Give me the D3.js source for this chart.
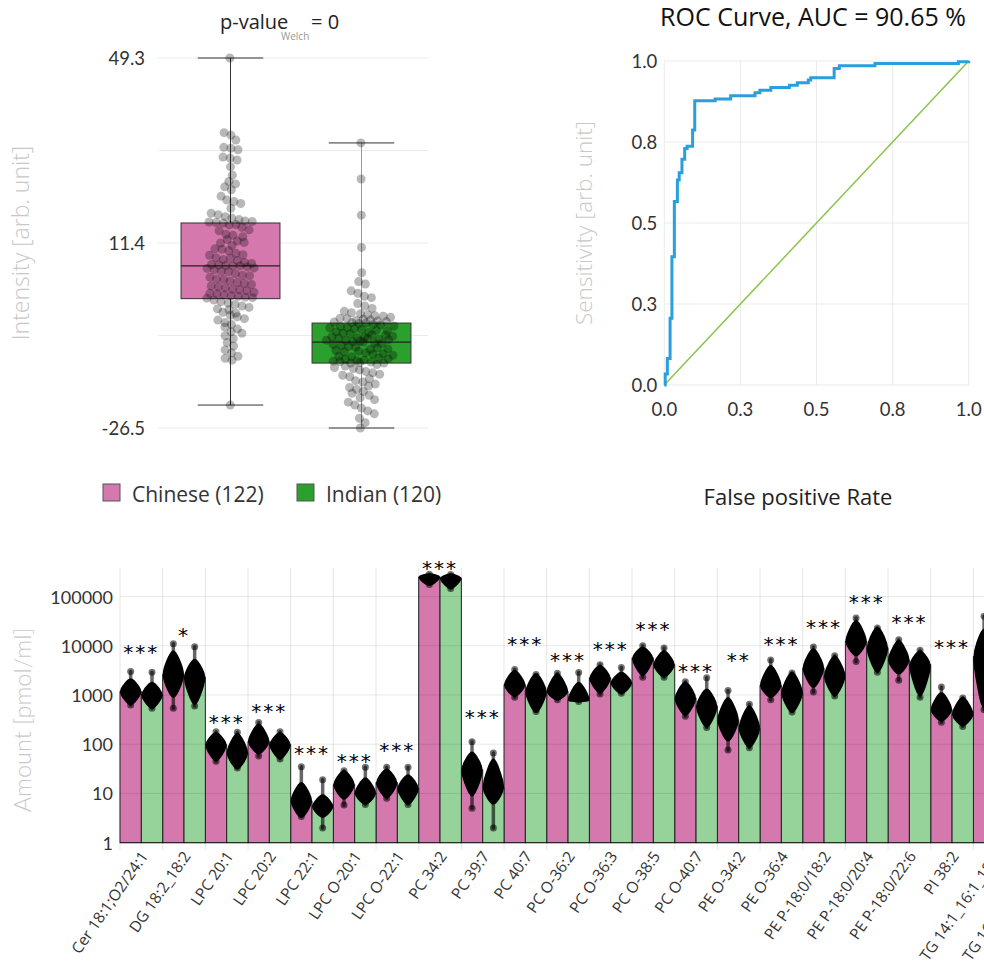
<!DOCTYPE html>
<html>
<head>
<meta charset="utf-8">
<script src="https://cdn.jsdelivr.net/npm/d3@7"></script>
<style>
  body { margin: 0; background: #fff; overflow: hidden; }
  svg text { font-family: "Open Sans", sans-serif; }
</style>
</head>
<body>
<div id="chart"></div>
<script>
/* ---------- data: box plot ---------- */
const groupNames = ["Chinese", "Indian"];
const groupCounts = [122, 120];
const boxQ1 = [0.0, -13.2];
const boxMedian = [6.7, -8.9];
const boxQ3 = [15.5, -5.0];
const whiskerLow = [-21.8, -26.5];
const whiskerHigh = [49.3, 31.9];
const intensityGrid = [49.3, 30.35, 11.4, -7.55, -26.5];
const intensityLabels = [49.3, 11.4, -26.5];

const chineseIntensity = [49.3, 34.0, 33.5, 32.5, 31.0, 30.8, 30.5, 29.0, 28.8, 28.4, 27.0, 25.3, 24.0, 23.5,
  22.9, 22.3, 21.0, 20.2, 19.9, 19.5, 18.5, 17.5, 17.2, 16.8, 16.5, 16.2, 15.9, 15.8, 15.7, 15.6, 15.5,
  15.2, 15.1, 14.6, 14.1, 13.9, 13.2, 13.0, 12.7, 12.1, 11.8, 11.5, 11.4, 10.9, 10.2, 10.1, 9.8, 9.3, 9.0,
  8.9, 8.4, 8.3, 8.0, 7.8, 7.4, 7.2, 7.0, 6.9, 6.8, 6.7, 6.7,
  6.5, 6.3, 6.2, 5.9, 5.6, 5.5, 5.1, 4.8, 4.7, 4.4, 4.0, 3.9, 3.6, 3.3, 3.1, 2.9, 2.6, 2.4, 2.2, 1.9,
  1.8, 1.6, 1.3, 1.1, 1.0, 0.8, 0.6, 0.5, 0.3, 0.2, 0.1,
  -0.3, -0.6, -0.9, -1.2, -1.5, -1.8, -2.1, -2.3, -2.8, -3.0, -3.4, -3.7, -4.1, -4.4, -4.9, -5.3, -5.8,
  -6.2, -6.8, -7.1, -7.6, -8.2, -9.0, -9.7, -10.5, -11.1, -11.8, -12.2, -12.6, -21.8];
const indianIntensity = [31.9, 24.5, 17.1, 10.5, 5.3, 3.5, 3.0, 1.6, 1.1, 0.5, 0.2, -1.0, -1.5, -2.0, -2.6,
  -2.9, -3.1, -3.3, -3.5, -3.6, -3.8, -4.0, -4.1, -4.2, -4.4, -4.5, -4.6, -4.7, -4.8, -4.9,
  -5.0, -5.1, -5.3, -5.4, -5.6, -5.7, -5.9, -6.0, -6.2, -6.3, -6.5, -6.6, -6.8, -6.9, -7.1, -7.2, -7.4,
  -7.5, -7.7, -7.8, -7.9, -8.0, -8.1, -8.2, -8.3, -8.4, -8.5, -8.6, -8.7, -8.8,
  -8.9, -9.1, -9.2, -9.4, -9.6, -9.8, -9.9, -10.1, -10.3, -10.4, -10.6, -10.8, -10.9, -11.1, -11.3,
  -11.4, -11.6, -11.8, -11.9, -12.1, -12.3, -12.4, -12.6, -12.7, -12.8, -12.9, -13.0, -13.1, -13.2, -13.2,
  -13.5, -13.8, -14.1, -14.3, -14.6, -14.9, -15.2, -15.5, -15.7, -16.0, -16.4, -16.8, -17.1, -17.5,
  -17.9, -18.2, -18.6, -19.0, -19.4, -19.8, -20.3, -20.7, -21.2, -21.8, -22.4, -23.0, -23.6, -24.5,
  -25.4, -26.5];

/* ---------- data: ROC ---------- */
const rocFpr = [0, 0.003, 0.010, 0.019, 0.025, 0.033, 0.043, 0.049, 0.058, 0.067, 0.075, 0.093, 0.100,
  0.167, 0.218, 0.298, 0.314, 0.350, 0.411, 0.437, 0.473, 0.481, 0.558, 0.575, 0.692, 0.966, 1.0];
const rocTpr = [0, 0.034, 0.082, 0.206, 0.396, 0.566, 0.633, 0.655, 0.697, 0.730, 0.737, 0.787, 0.877,
  0.883, 0.893, 0.902, 0.910, 0.918, 0.925, 0.933, 0.941, 0.948, 0.977, 0.985, 0.992, 0.998, 1.0];
const rocTicks = [0, 0.25, 0.5, 0.75, 1];
const aucPercent = 90.65;

/* ---------- data: lipid bars ---------- */
const lipids = ["Cer 18:1;O2/24:1", "DG 18:2_18:2", "LPC 20:1", "LPC 20:2", "LPC 22:1", "LPC O-20:1",
  "LPC O-22:1", "PC 34:2", "PC 39:7", "PC 40:7", "PC O-36:2", "PC O-36:3", "PC O-38:5", "PC O-40:7",
  "PE O-34:2", "PE O-36:4", "PE P-18:0/18:2", "PE P-18:0/20:4", "PE P-18:0/22:6", "PI 38:2",
  "TG 14:1_16:1_18:2", "TG 16:1_16:1_18:1"];
const chineseMean = [1170, 2600, 97, 113, 7, 15, 16.5, 247000, 30, 1600, 1170, 2200, 5600, 860, 310,
  1550, 3500, 12200, 5100, 500, 6000, 4000];
const indianMean = [1000, 2300, 66, 97, 5.4, 10, 12.5, 235000, 13, 1170, 800, 1740, 4100, 590, 210,
  1100, 2400, 9000, 4100, 400, 4500, 3000];
const chineseHi = [2040, 7600, 165, 245, 16, 28, 30, 277000, 66, 3000, 2600, 3800, 8900, 1750, 850,
  3800, 8300, 31000, 12300, 1070, 21000, 9000];
const chineseLo = [660, 930, 48, 66, 3.4, 8, 8.5, 175000, 9.3, 980, 830, 1150, 2600, 400, 122, 940,
  1480, 6500, 2800, 310, 580, 900];
const chineseMax = [3000, 11000, 180, 275, 35, 29, 34, 285000, 112, 3300, 2780, 4100, 10000, 1850,
  1230, 5150, 9400, 36500, 13200, 1460, 40000, 12000];
const chineseMin = [630, 540, 45, 58, 3.4, 5.8, 8, 175000, 5, 900, 800, 1050, 2300, 370, 76, 800,
  1150, 4800, 2000, 280, 500, 700];
const indianHi = [1740, 5100, 160, 165, 9, 20, 23, 277000, 48, 2600, 1740, 2800, 7600, 1260, 580, 2800,
  6000, 23000, 7600, 870, 15000, 8000];
const indianLo = [560, 670, 33, 52, 3.4, 6.3, 6.3, 150000, 6.3, 460, 760, 1100, 2400, 230, 89, 460,
  1000, 3000, 1000, 245, 500, 600];
const indianMax = [2900, 9600, 175, 180, 19, 34, 34, 280000, 66, 2600, 2850, 3600, 9000, 2240, 650,
  2800, 6300, 23000, 8100, 870, 20000, 10000];
const indianMin = [540, 600, 33, 50, 2.0, 6, 6, 145000, 2.0, 460, 740, 1080, 2300, 220, 85, 450, 950,
  2900, 900, 230, 400, 500];
// the last two groups run past the right edge; their stars are not visible
const sigLabel = ["***", "*", "***", "***", "***", "***", "***", "***", "***", "***", "***", "***", "***",
  "***", "**", "***", "***", "***", "***", "***", "", ""];
const sigLevel = [9600, 21000, 365, 610, 83, 58, 97, 490000, 460, 13800, 6500, 11000, 27500, 3900, 6500,
  13800, 31000, 97000, 39000, 12200, 60000, 40000];
const amountTicks = [1, 10, 100, 1000, 10000, 100000];

/* ---------- setup ---------- */
const W = 984, H = 979;
const pink = "#d478ad", green = "#2ca02c", lightGreen = "#95d39b";
const svg = d3.select("#chart").append("svg").attr("width", W).attr("height", H);

/* ================= Box plot ================= */
const yI = d3.scaleLinear().domain([-26.5, 49.3]).range([428, 58]);
const xI = d3.scaleBand().domain(groupNames).range([165, 427]);
const boxG = svg.append("g");

boxG.selectAll(".gridI").data(intensityGrid).join("line")
  .attr("x1", 158).attr("x2", 428)
  .attr("y1", d => yI(d)).attr("y2", d => yI(d))
  .attr("stroke", "#ebebeb");

boxG.selectAll(".tickI").data(intensityLabels).join("text")
  .attr("x", 145).attr("y", d => yI(d))
  .attr("text-anchor", "end").attr("dominant-baseline", "central")
  .style("font-family", "Lato").style("font-size", "18.5px").attr("fill", "#333")
  .text(d => d);

boxG.append("text")
  .attr("transform", "translate(29," + yI(11.4) + ")rotate(-90)")
  .attr("text-anchor", "middle")
  .style("font-size", "23px").style("font-weight", 300).attr("fill", "#c8c8c8")
  .text("Intensity [arb. unit]");

// title with subscript
const pt = boxG.append("text").attr("y", 29).style("font-size", "20px").attr("fill", "#222");
pt.append("tspan").attr("x", 220).text("p-value");
pt.append("tspan").attr("x", 281).attr("y", 40).style("font-size", "10px").attr("fill", "#999").text("Welch");
pt.append("tspan").attr("x", 311).attr("y", 29).text("= 0");

const boxFill = [pink, green];
groupNames.forEach((g, i) => {
  const cx = xI(g) + xI.bandwidth() / 2;
  const bw = xI.bandwidth() * 0.755;
  const cw = xI.bandwidth() * 0.5;
  boxG.append("line")
    .attr("x1", cx).attr("x2", cx)
    .attr("y1", yI(whiskerLow[i])).attr("y2", yI(whiskerHigh[i]))
    .attr("stroke", i === 0 ? "#333" : "#999");
  [whiskerLow[i], whiskerHigh[i]].forEach(v => {
    boxG.append("line")
      .attr("x1", cx - cw / 2).attr("x2", cx + cw / 2)
      .attr("y1", yI(v)).attr("y2", yI(v))
      .attr("stroke", "#333");
  });
  boxG.append("rect")
    .attr("x", cx - bw / 2).attr("width", bw)
    .attr("y", yI(boxQ3[i])).attr("height", yI(boxQ1[i]) - yI(boxQ3[i]))
    .attr("fill", boxFill[i]).attr("stroke", "#333");
  boxG.append("line")
    .attr("x1", cx - bw / 2).attr("x2", cx + bw / 2)
    .attr("y1", yI(boxMedian[i])).attr("y2", yI(boxMedian[i]))
    .attr("stroke", "#222").attr("stroke-width", 1.2);
});

// jittered points, laid out with a collide force (deterministic)
function swarm(values, cx) {
  const nodes = values.map((v, i) => ({ x: cx + ((i % 7) - 3) * 3, y: yI(v), ty: yI(v) }));
  const sim = d3.forceSimulation(nodes)
    .force("x", d3.forceX(cx).strength(0.04))
    .force("y", d3.forceY(d => d.ty).strength(1))
    .force("c", d3.forceCollide(3.6))
    .stop();
  for (let k = 0; k < 200; k++) sim.tick();
  return nodes;
}
[chineseIntensity, indianIntensity].forEach((vals, i) => {
  const cx = xI(groupNames[i]) + xI.bandwidth() / 2;
  boxG.append("g").selectAll("circle").data(swarm(vals, cx)).join("circle")
    .attr("cx", d => d.x).attr("cy", d => d.ty).attr("r", 4.5)
    .attr("fill", "#000").attr("fill-opacity", 0.28);
});

// legend
const leg = svg.append("g");
groupNames.forEach((g, i) => {
  const lx = [103, 297][i];
  leg.append("rect").attr("x", lx).attr("y", 484).attr("width", 17).attr("height", 17)
    .attr("fill", boxFill[i]).attr("stroke", "#555");
  leg.append("text").attr("x", lx + 29).attr("y", 494)
    .attr("dominant-baseline", "central")
    .style("font-size", "21px").attr("fill", "#333")
    .text(g + " (" + groupCounts[i] + ")");
});

/* ================= ROC curve ================= */
const xR = d3.scaleLinear().domain([0, 1]).range([664.3, 968.7]);
const yR = d3.scaleLinear().domain([0, 1]).range([385, 61]);
const fmt = d3.format(".1f");
const rocG = svg.append("g");

rocG.selectAll(".gx").data(rocTicks).join("line")
  .attr("x1", d => xR(d)).attr("x2", d => xR(d)).attr("y1", yR(0)).attr("y2", yR(1))
  .attr("stroke", "#ebebeb");
rocG.selectAll(".gy").data(rocTicks).join("line")
  .attr("x1", xR(0)).attr("x2", xR(1)).attr("y1", d => yR(d)).attr("y2", d => yR(d))
  .attr("stroke", "#ebebeb");

rocG.selectAll(".tx").data(rocTicks).join("text")
  .attr("x", d => xR(d)).attr("y", yR(0) + 24)
  .attr("text-anchor", "middle").attr("dominant-baseline", "central")
  .style("font-family", "Lato").style("font-size", "18.5px").attr("fill", "#333")
  .text(d => fmt(d));
rocG.selectAll(".ty").data(rocTicks).join("text")
  .attr("x", xR(0) - 7).attr("y", d => yR(d))
  .attr("text-anchor", "end").attr("dominant-baseline", "central")
  .style("font-family", "Lato").style("font-size", "18.5px").attr("fill", "#333")
  .text(d => fmt(d));

rocG.append("line")
  .attr("x1", xR(0)).attr("y1", yR(0)).attr("x2", xR(1)).attr("y2", yR(1))
  .attr("stroke", "#8bc34a").attr("stroke-width", 1.5);

const rocLine = d3.line().x(d => xR(d[0])).y(d => yR(d[1])).curve(d3.curveStepAfter);
rocG.append("path")
  .attr("d", rocLine(rocFpr.map((f, i) => [f, rocTpr[i]])))
  .attr("fill", "none").attr("stroke", "#2b9ede").attr("stroke-width", 3);

rocG.append("text")
  .attr("x", 813).attr("y", 26).attr("text-anchor", "middle")
  .style("font-size", "25px").attr("fill", "#111")
  .text("ROC Curve, AUC = " + aucPercent + " %");
rocG.append("text")
  .attr("transform", "translate(592," + yR(0.5) + ")rotate(-90)")
  .attr("text-anchor", "middle")
  .style("font-size", "22.5px").style("font-weight", 300).attr("fill", "#c8c8c8")
  .text("Sensitivity [arb. unit]");
rocG.append("text")
  .attr("x", 798).attr("y", 505).attr("text-anchor", "middle")
  .style("font-size", "22px").attr("fill", "#222")
  .text("False positive Rate");

/* ================= Lipid bars ================= */
const band = 42.67;
const xB = d3.scaleBand().domain(lipids).range([120, 120 + lipids.length * band]);
const yB = d3.scaleLog().domain([1, 380000]).range([842.7, 568]);
const barG = svg.append("g");
const bw = xB.bandwidth() / 2;

// vertical grid at group edges (extends below axis as ticks)
barG.selectAll(".gv").data(lipids).join("line")
  .attr("x1", d => xB(d)).attr("x2", d => xB(d))
  .attr("y1", 568).attr("y2", 850)
  .attr("stroke", "#e6e6e6");

barG.selectAll(".ty").data(amountTicks).join("text")
  .attr("x", 113).attr("y", d => yB(d))
  .attr("text-anchor", "end").attr("dominant-baseline", "central")
  .style("font-family", "Lato").style("font-size", "18px").attr("fill", "#333")
  .text(d => d);

barG.append("text")
  .attr("transform", "translate(31,720)rotate(-90)")
  .attr("text-anchor", "middle")
  .style("font-family", "Lato").style("font-size", "23.5px").style("font-weight", 300).attr("fill", "#c8c8c8")
  .text("Amount [pmol/ml]");

const series = [
  { mean: chineseMean, hi: chineseHi, lo: chineseLo, max: chineseMax, min: chineseMin, fill: pink },
  { mean: indianMean, hi: indianHi, lo: indianLo, max: indianMax, min: indianMin, fill: lightGreen }
];

series.forEach((s, si) => {
  barG.append("g").selectAll("rect").data(lipids).join("rect")
    .attr("x", d => xB(d) + si * bw).attr("width", bw)
    .attr("y", (d, i) => yB(s.mean[i]))
    .attr("height", (d, i) => yB(1) - yB(s.mean[i]))
    .attr("fill", s.fill).attr("stroke", "#222").attr("stroke-width", 1);
});

// horizontal grid over the bars
barG.selectAll(".gh").data(amountTicks).join("line")
  .attr("x1", 120).attr("x2", W)
  .attr("y1", d => yB(d)).attr("y2", d => yB(d))
  .attr("stroke", "#000").attr("stroke-opacity", d => d === 1 ? 0.45 : 0.09);

// point clouds: violin-like blob between lo and hi, widest at the bar top, plus extreme points
const blob = d3.line().curve(d3.curveCatmullRomClosed.alpha(0.5));
series.forEach((s, si) => {
  const g = barG.append("g");
  lipids.forEach((name, i) => {
    const cx = xB(name) + si * bw + bw / 2;
    const hw = bw / 2 - 1.5;
    const yH = yB(s.hi[i]), yM = yB(s.mean[i]), yL = yB(s.lo[i]);
    g.append("line")
      .attr("x1", cx).attr("x2", cx)
      .attr("y1", yB(s.max[i])).attr("y2", yB(s.min[i]))
      .attr("stroke", "#000").attr("stroke-width", 3.5).attr("stroke-opacity", 0.6)
      .attr("stroke-linecap", "round");
    g.append("path")
      .attr("d", blob([
        [cx, yH], [cx + hw * 0.7, (yH + yM) / 2], [cx + hw, yM], [cx + hw * 0.7, (yM + yL) / 2],
        [cx, yL], [cx - hw * 0.7, (yM + yL) / 2], [cx - hw, yM], [cx - hw * 0.7, (yH + yM) / 2]
      ]))
      .attr("fill", "#000").attr("stroke", "#000").attr("stroke-width", 3)
      .attr("stroke-linejoin", "round");
    [s.max[i], s.min[i]].forEach(v => {
      g.append("circle").attr("cx", cx).attr("cy", yB(v)).attr("r", 3.5)
        .attr("fill", "#000").attr("fill-opacity", 0.55);
    });
  });
});

// significance stars
barG.selectAll(".sig").data(lipids.filter((d, i) => sigLabel[i] !== "")).join("text")
  .attr("x", d => xB(d) + xB.bandwidth() / 2)
  .attr("y", d => yB(sigLevel[lipids.indexOf(d)]) + 12)
  .attr("text-anchor", "middle")
  .style("font-family", "DejaVu Sans").style("font-size", "20px").style("letter-spacing", "2px")
  .attr("fill", "#000")
  .text(d => sigLabel[lipids.indexOf(d)]);

// rotated category labels
barG.selectAll(".lab").data(lipids).join("text")
  .attr("transform", d => "translate(" + (xB(d) + xB.bandwidth() / 2 + 3) + ",853)rotate(-55)")
  .attr("text-anchor", "end").attr("dy", "0.35em")
  .style("font-size", "15.5px").attr("fill", "#333")
  .text(d => d);
</script>
</body>
</html>
